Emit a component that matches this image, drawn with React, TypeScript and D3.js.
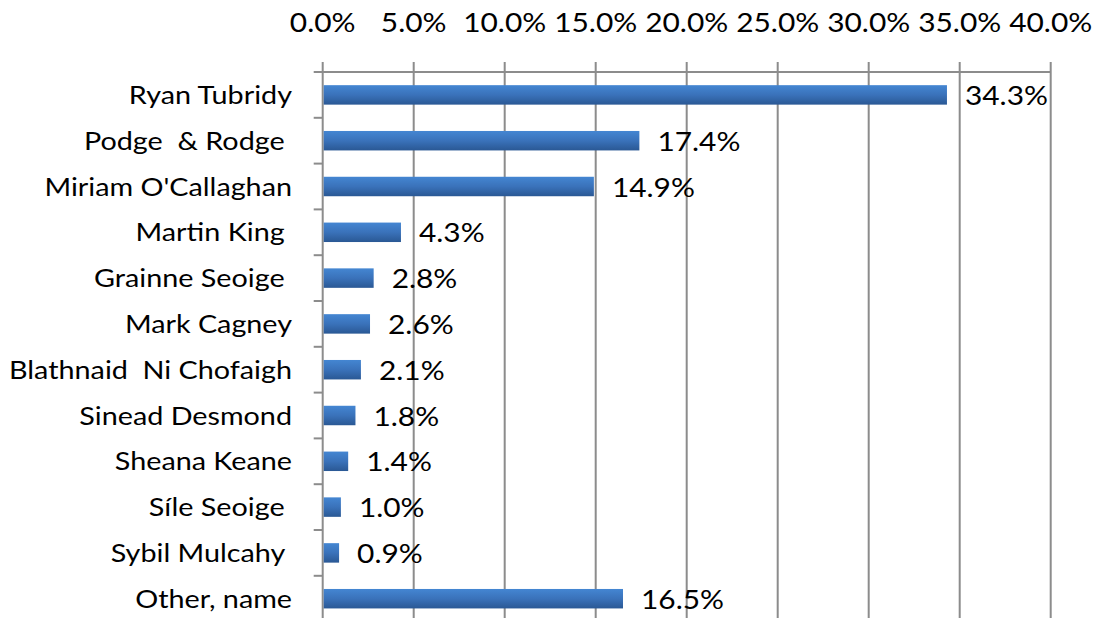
import React from "react";
import * as d3 from "d3";

const categories = [
  "Ryan Tubridy",
  "Podge  & Rodge ",
  "Miriam O'Callaghan",
  "Martin King ",
  "Grainne Seoige ",
  "Mark Cagney",
  "Blathnaid  Ni Chofaigh",
  "Sinead Desmond",
  "Sheana Keane",
  "Síle Seoige ",
  "Sybil Mulcahy ",
  "Other, name",
];
const values = [34.3, 17.4, 14.9, 4.3, 2.8, 2.6, 2.1, 1.8, 1.4, 1.0, 0.9, 16.5];
const tickValues = [0, 5, 10, 15, 20, 25, 30, 35, 40];

const W = 1093;
const H = 618;
const left = 322.7;
const right = 1050.7;
const top = 72;
const band = 45.8;
const FONT = "Lato, 'Open Sans', sans-serif";
const SX = 1.15;

export default function App() {
  const x = d3.scaleLinear().domain([0, 40]).range([left, right]);
  const y = d3
    .scaleBand<string>()
    .domain(categories.map((c, i) => String(i)))
    .range([top, top + band * categories.length])
    .paddingInner(0.575)
    .paddingOuter(0.2875);
  const grid = "#8c8c8c";
  const bottom = top + band * categories.length;
  return (
    <div style={{ position: "fixed", left: 0, top: 0 }}>
      <svg width={W} height={H} style={{ display: "block", background: "#fff" }}>
        <defs>
          <linearGradient id="barGrad" x1="0" y1="0" x2="0" y2="1">
            <stop offset="0" stopColor="#4486d2" />
            <stop offset="0.5" stopColor="#3a72ba" />
            <stop offset="1" stopColor="#2a5894" />
          </linearGradient>
        </defs>
        {tickValues.map((t) => (
          <g key={t}>
            <line x1={x(t)} x2={x(t)} y1={62} y2={bottom} stroke={grid} strokeWidth={2} />
            <text
              transform={`translate(${x(t)},32) scale(${SX},1)`}
              textAnchor="middle"
              fontFamily={FONT}
              fontSize={26}
              fill="#000"
            >
              {t.toFixed(1) + "%"}
            </text>
          </g>
        ))}
        <line x1={left} x2={right} y1={top} y2={top} stroke={grid} strokeWidth={2} />
        {d3.range(categories.length + 1).map((i) => (
          <line
            key={i}
            x1={left - 9}
            x2={left}
            y1={top + band * i}
            y2={top + band * i}
            stroke={grid}
            strokeWidth={2}
          />
        ))}
        {categories.map((c, i) => {
          const yy = y(String(i))!;
          const h = y.bandwidth();
          return (
            <g key={i}>
              <rect
                x={x(0) + 1}
                y={yy}
                width={x(values[i]) - x(0) - 1}
                height={h}
                fill="url(#barGrad)"
              />
              <text
                transform={`translate(292,${yy + h / 2 + 9}) scale(${SX},1)`}
                textAnchor="end"
                fontFamily={FONT}
                fontSize={25}
                fill="#000"
                style={{ whiteSpace: "pre" }}
              >
                {c}
              </text>
              <text
                transform={`translate(${x(values[i]) + 18},${yy + h / 2 + 10}) scale(${SX},1)`}
                fontFamily={FONT}
                fontSize={26}
                fill="#000"
              >
                {values[i].toFixed(1) + "%"}
              </text>
            </g>
          );
        })}
      </svg>
    </div>
  );
}
